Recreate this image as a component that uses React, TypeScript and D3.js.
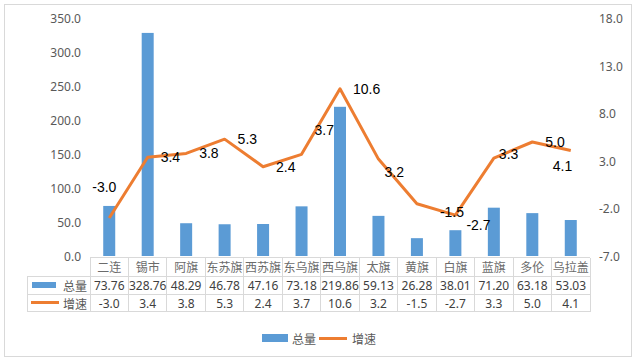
import * as d3 from 'd3';

const categories = ['二连', '锡市', '阿旗', '东苏旗', '西苏旗', '东乌旗', '西乌旗', '太旗', '黄旗', '白旗', '蓝旗', '多伦', '乌拉盖'];
const totals = [73.76, 328.76, 48.29, 46.78, 47.16, 73.18, 219.86, 59.13, 26.28, 38.01, 71.2, 63.18, 53.03];
const growth = [-3.0, 3.4, 3.8, 5.3, 2.4, 3.7, 10.6, 3.2, -1.5, -2.7, 3.3, 5.0, 4.1];
const leftTicks = [0, 50, 100, 150, 200, 250, 300, 350];
const rightTicks = [-7, -2, 3, 8, 13, 18];
const seriesNames = ['总量', '增速'];

// hand-placed label nudges (Excel moved some of them)
const labelNudge: [number, number][] = [
  [-17, -31], [13, 0], [13, 0], [13, 0], [13, 0], [13, -24], [13, 0],
  [6, 13], [23, 8], [11, 10], [5, -4], [13, 0], [-18, 15],
];

const BLUE = '#5b9bd5';
const ORANGE = '#ed7d31';
const GRID = '#d9d9d9';
const AXIS_TEXT = '#595959';
const NUM_FONT = '"Noto Sans", "Open Sans", sans-serif';
const CJK_FONT = '"Noto Sans CJK SC", sans-serif';

export default function App() {
  const width = 636;
  const height = 362;
  const left = 90;
  const right = 590;
  const top = 18.5;
  const bottom = 256;

  const x = d3.scaleBand<string>().domain(categories).range([left, right]).padding(0);
  const yL = d3.scaleLinear().domain([0, 350]).range([bottom, top]);
  const yR = d3.scaleLinear().domain([-7, 18]).range([bottom, top]);
  const cx = (c: string) => (x(c) ?? 0) + x.bandwidth() / 2;

  const line = d3
    .line<number>()
    .x((_, i) => cx(categories[i]))
    .y((d) => yR(d));

  const barW = 12;
  const rowTop = 257.5;
  const row1 = 276;
  const row2 = 294.3;
  const rowEnd = 311.7;
  const legendLeft = 27;

  return (
    <svg
      width={width}
      height={height}
      style={{ position: 'fixed', left: 0, top: 0, background: '#fff' }}
    >
      <rect x={4.5} y={4.5} width={627} height={352} fill="#fff" stroke={GRID} />

      {leftTicks.map((t) => (
        <text
          key={'l' + t}
          x={81}
          y={yL(t)}
          textAnchor="end"
          dominantBaseline="central"
          fontSize={12}
          fontFamily={NUM_FONT}
          fill={AXIS_TEXT}
        >
          {t.toFixed(1)}
        </text>
      ))}
      {rightTicks.map((t) => (
        <text
          key={'r' + t}
          x={599}
          y={yR(t)}
          textAnchor="start"
          dominantBaseline="central"
          fontSize={12}
          fontFamily={NUM_FONT}
          fill={AXIS_TEXT}
        >
          {t.toFixed(1)}
        </text>
      ))}

      {totals.map((v, i) => (
        <rect
          key={'b' + i}
          x={cx(categories[i]) - barW / 2}
          y={yL(v)}
          width={barW}
          height={yL(0) - yL(v)}
          fill={BLUE}
        />
      ))}

      <path d={line(growth) ?? ''} fill="none" stroke={ORANGE} strokeWidth={3} strokeLinejoin="round" />

      {growth.map((v, i) => (
        <text
          key={'dl' + i}
          x={cx(categories[i]) + labelNudge[i][0]}
          y={yR(v) + labelNudge[i][1]}
          dominantBaseline="central"
          fontSize={14}
          fontFamily='"Liberation Sans", Arial, sans-serif'
          fill="#000"
        >
          {v.toFixed(1)}
        </text>
      ))}

      {/* data table */}
      <g stroke={GRID} strokeWidth={1} shapeRendering="crispEdges">
        <line x1={left} x2={right} y1={rowTop} y2={rowTop} />
        <line x1={legendLeft} x2={right} y1={row1} y2={row1} />
        <line x1={legendLeft} x2={right} y1={row2} y2={row2} />
        <line x1={legendLeft} x2={right} y1={rowEnd} y2={rowEnd} />
        <line x1={legendLeft} x2={legendLeft} y1={row1} y2={rowEnd} />
        {categories.map((c) => (
          <line key={'v' + c} x1={x(c)} x2={x(c)} y1={rowTop} y2={rowEnd} />
        ))}
        <line x1={right} x2={right} y1={rowTop} y2={rowEnd} />
      </g>

      {categories.map((c) => (
        <text
          key={'c' + c}
          x={cx(c)}
          y={(rowTop + row1) / 2}
          textAnchor="middle"
          dominantBaseline="central"
          fontSize={12}
          fontFamily={CJK_FONT}
          fill="#6b6b6b"
        >
          {c}
        </text>
      ))}
      {totals.map((v, i) => (
        <text
          key={'t' + i}
          x={cx(categories[i])}
          y={(row1 + row2) / 2}
          textAnchor="middle"
          dominantBaseline="central"
          fontSize={12}
          fontFamily={NUM_FONT}
          fill="#404040"
        >
          {v.toFixed(2)}
        </text>
      ))}
      {growth.map((v, i) => (
        <text
          key={'g' + i}
          x={cx(categories[i])}
          y={(row2 + rowEnd) / 2}
          textAnchor="middle"
          dominantBaseline="central"
          fontSize={12}
          fontFamily={NUM_FONT}
          fill="#404040"
        >
          {v.toFixed(1)}
        </text>
      ))}

      {/* legend keys inside the table */}
      <rect x={32} y={282} width={24} height={6} fill={BLUE} />
      <text x={63} y={(row1 + row2) / 2} dominantBaseline="central" fontSize={12} fontFamily={CJK_FONT} fill={AXIS_TEXT}>
        {seriesNames[0]}
      </text>
      <line x1={31} x2={59} y1={302.5} y2={302.5} stroke={ORANGE} strokeWidth={3} />
      <text x={63} y={(row2 + rowEnd) / 2} dominantBaseline="central" fontSize={12} fontFamily={CJK_FONT} fill={AXIS_TEXT}>
        {seriesNames[1]}
      </text>

      {/* bottom legend */}
      <rect x={262} y={334} width={26} height={8} fill={BLUE} />
      <text x={292} y={338.5} dominantBaseline="central" fontSize={12} fontFamily={CJK_FONT} fill={AXIS_TEXT}>
        {seriesNames[0]}
      </text>
      <line x1={319} x2={347} y1={338.5} y2={338.5} stroke={ORANGE} strokeWidth={3} />
      <text x={352} y={338.5} dominantBaseline="central" fontSize={12} fontFamily={CJK_FONT} fill={AXIS_TEXT}>
        {seriesNames[1]}
      </text>
    </svg>
  );
}
